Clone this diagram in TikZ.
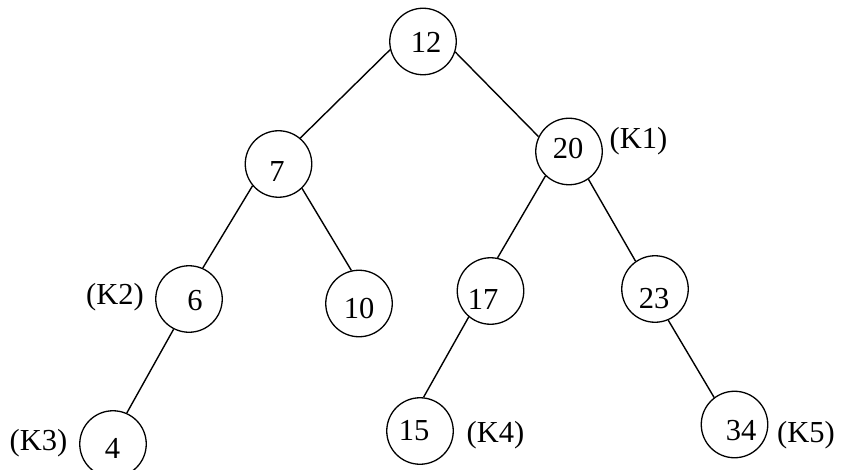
\documentclass[tikz,border=0pt]{standalone}
\usepackage{fontspec}
\setmainfont{Liberation Serif}
\begin{document}
\begin{tikzpicture}[x=1pt,y=-1pt,
  circ/.style={draw=black,circle,line width=1.3pt,minimum size=66.5pt,inner sep=0pt},
  num/.style={inner sep=0pt,font=\fontsize{30.5}{36}\selectfont},
  lab/.style={inner sep=0pt,font=\fontsize{30.5}{36}\selectfont},
  edge/.style={draw=black,line width=1.4pt}]
\useasboundingbox[fill=white] (0,0) rectangle (850,470);
% circles
\node[circ] (n12) at (423,41.5) {};
\node[circ] (n7)  at (278.5,164) {};
\node[circ] (n20) at (569,151.5) {};
\node[circ] (n6)  at (189,299) {};
\node[circ] (n10) at (359,303.5) {};
\node[circ] (n17) at (490.5,291) {};
\node[circ] (n23) at (655,289) {};
\node[circ] (n4)  at (113,444) {};
\node[circ] (n15) at (420,431) {};
\node[circ] (n34) at (734.5,424.5) {};
% numbers
\node[num] (t12) at (426,42.5) {12};
\node[num] (t7)  at (277,172) {7};
\node[num] (t20) at (568,149) {20};
\node[num] (t6)  at (195,301) {6};
\node[num] (t10) at (359,309) {10};
\node[num] (t17) at (483,299) {17};
\node[num] (t23) at (654,299) {23};
\node[num] (t4)  at (112.5,448) {4};
\node[num] (t15) at (414,431) {15};
\node[num] (t34) at (741,431) {34};
% labels
\node[lab] (k1) at (638.5,141) {(K1)};
\node[lab] (k2) at (115,297) {(K2)};
\node[lab] (k3) at (38.5,443.5) {(K3)};
\node[lab] (k4) at (495.5,435) {(K4)};
\node[lab] (k5) at (806,435) {(K5)};
% edges
\draw[edge] (n12.-166) -- (n7.50);
\draw[edge] (n12.-18) -- (n20.154);
\draw[edge] (n7.-140) -- (n6.66);
\draw[edge] (n7.-46) -- (n10.103);
\draw[edge] (n20.-134) -- (n17.78);
\draw[edge] (n20.-55) -- (n23.125);
\draw[edge] (n6.-117) -- (n4.66);
\draw[edge] (n17.-130) -- (n15.84);
\draw[edge] (n23.-67) -- (n34.127);
\end{tikzpicture}
\end{document}
